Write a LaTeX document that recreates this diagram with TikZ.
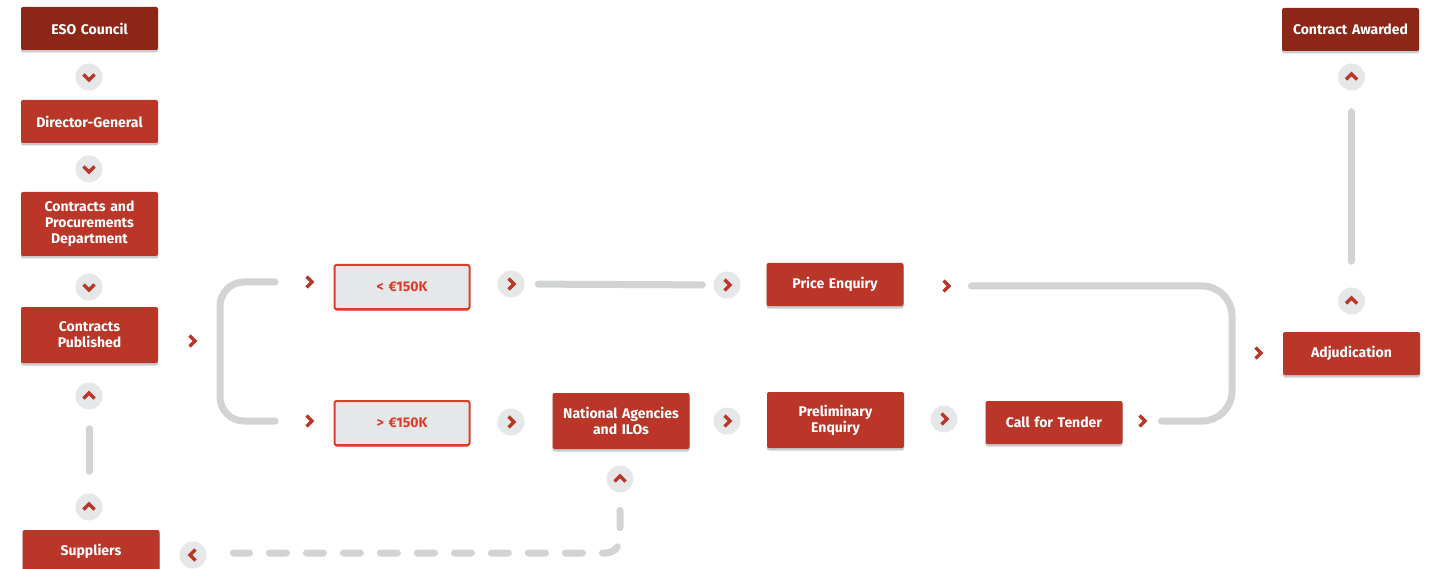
\documentclass[tikz,border=0pt]{standalone}
\usepackage{fontspec}
\setsansfont{Fira Sans}
\usepackage{xcolor}
\usetikzlibrary{positioning, shadows}
\definecolor{esodark}{HTML}{8C2617}
\definecolor{esored}{HTML}{B93628}
\definecolor{esoline}{HTML}{E03A2A}
\definecolor{esopale}{HTML}{E6E7E8}
\definecolor{esotrack}{HTML}{D1D3D4}
\definecolor{esoshade}{HTML}{CACBCD}

\begin{document}
\begin{tikzpicture}[x=1pt, y=-1pt,
    font=\sffamily\bfseries\fontsize{14}{16}\selectfont,
    stagebase/.style={rounded corners=2pt, minimum width=137pt, minimum height=43pt, text width=130pt, align=center, inner sep=0pt},
    stage/.style={stagebase, fill=esored, text=white, drop shadow={shadow xshift=0pt, shadow yshift=-2.5pt, fill=esoshade, opacity=1}},
    headstage/.style={stage, fill=esodark},
    band/.style={stagebase, fill=esopale, text=esoline, draw=esoline, line width=2pt, minimum width=135pt, minimum height=44pt, drop shadow={shadow xshift=0pt, shadow yshift=-1.5pt, fill=esoline, opacity=1}},
    hub/.style={circle, fill=esopale, minimum size=27pt, inner sep=0pt},
    track/.style={draw=esotrack, line width=7pt, line cap=round},
    chev/.pic={\draw[esored, line width=3.4pt, line join=miter] (-2.5,-5.5) -- (3,0) -- (-2.5,5.5);}]
    \useasboundingbox[fill=white] (0,0) rectangle (1429,569);

    % Left column
    \node[headstage] (council) at (89.5,28.5) {ESO Council};
    \node[stage] (dirgen) at (89.5,121.5) {Director-General};
    \node[stage, minimum height=64pt] (cpd) at (89.5,224) {Contracts and\\Procurements\\Department};
    \node[stage, minimum height=56pt] (published) at (89.5,335) {Contracts\\Published};
    \node[stage] (suppliers) at (91,551.5) {Suppliers};

    % Threshold bands
    \node[band] (low) at (402,287) {< €150K};
    \node[band] (high) at (402,423) {> €150K};

    % Procedures
    \node[stage] (price) at (835,284.5) {Price Enquiry};
    \node[stage, minimum height=56pt] (national) at (621,421) {National Agencies\\and ILOs};
    \node[stage, minimum height=56pt] (prelim) at (835.5,420) {Preliminary\\Enquiry};
    \node[stage] (tender) at (1054,422.5) {Call for Tender};

    % Right column
    \node[stage] (adjud) at (1351.5,353.5) {Adjudication};
    \node[headstage] (awarded) at (1350.5,29.5) {Contract Awarded};

    % Circled chevrons
    \node[hub] (hubA) at (89,77) {};   \pic[rotate=-90] at (hubA) {chev};
    \node[hub] (hubB) at (89,169) {};  \pic[rotate=-90] at (hubB) {chev};
    \node[hub] (hubC) at (89,287) {};  \pic[rotate=-90] at (hubC) {chev};
    \node[hub] (hubD) at (89,396) {};  \pic[rotate=90] at (hubD) {chev};
    \node[hub] (hubE) at (89,507) {};  \pic[rotate=90] at (hubE) {chev};
    \node[hub] (hubF) at (511,284) {}; \pic at (hubF) {chev};
    \node[hub] (hubG) at (727,285) {}; \pic at (hubG) {chev};
    \node[hub] (hubH) at (511,422) {}; \pic at (hubH) {chev};
    \node[hub] (hubI) at (727,421) {}; \pic at (hubI) {chev};
    \node[hub] (hubJ) at (944,419) {}; \pic at (hubJ) {chev};
    \node[hub] (hubK) at (620,479) {}; \pic[rotate=90] at (hubK) {chev};
    \node[hub] (hubL) at (193,555) {}; \pic[rotate=180] at (hubL) {chev};
    \node[hub] (hubM) at (1351.5,301) {}; \pic[rotate=90] at (hubM) {chev};
    \node[hub] (hubN) at (1351.5,77) {};  \pic[rotate=90] at (hubN) {chev};

    % Plain chevrons
    \coordinate (arrA) at (192,341);  \pic at (arrA) {chev};
    \coordinate (arrB) at (309,282);  \pic at (arrB) {chev};
    \coordinate (arrC) at (309,421);  \pic at (arrC) {chev};
    \coordinate (arrD) at (946,286);  \pic at (arrD) {chev};
    \coordinate (arrE) at (1142,421); \pic at (arrE) {chev};
    \coordinate (arrF) at (1258,353); \pic at (arrF) {chev};

    % Tracks
    \draw[track, shorten <=19pt, shorten >=22pt] (hubD) -- (hubE);
    \draw[track, shorten <=13.5pt, shorten >=11pt] (hubF) -- (hubG);
    \draw[track, rounded corners=24pt] ([xshift=-34pt]arrB) -| (220,350) |- ([xshift=-34pt]arrC);
    \draw[track, rounded corners=30pt] ([xshift=25.5pt]arrD) -| (1232,350) |- ([xshift=19.5pt]arrE);
    \draw[track, shorten <=21pt, shorten >=26pt] (hubN) -- (hubM);
    \draw[track, dash pattern=on 17pt off 20pt, rounded corners=14pt] ([yshift=-31.5pt]hubK.center) |- ([xshift=40.5pt,yshift=2pt]hubL.center);
\end{tikzpicture}
\end{document}
